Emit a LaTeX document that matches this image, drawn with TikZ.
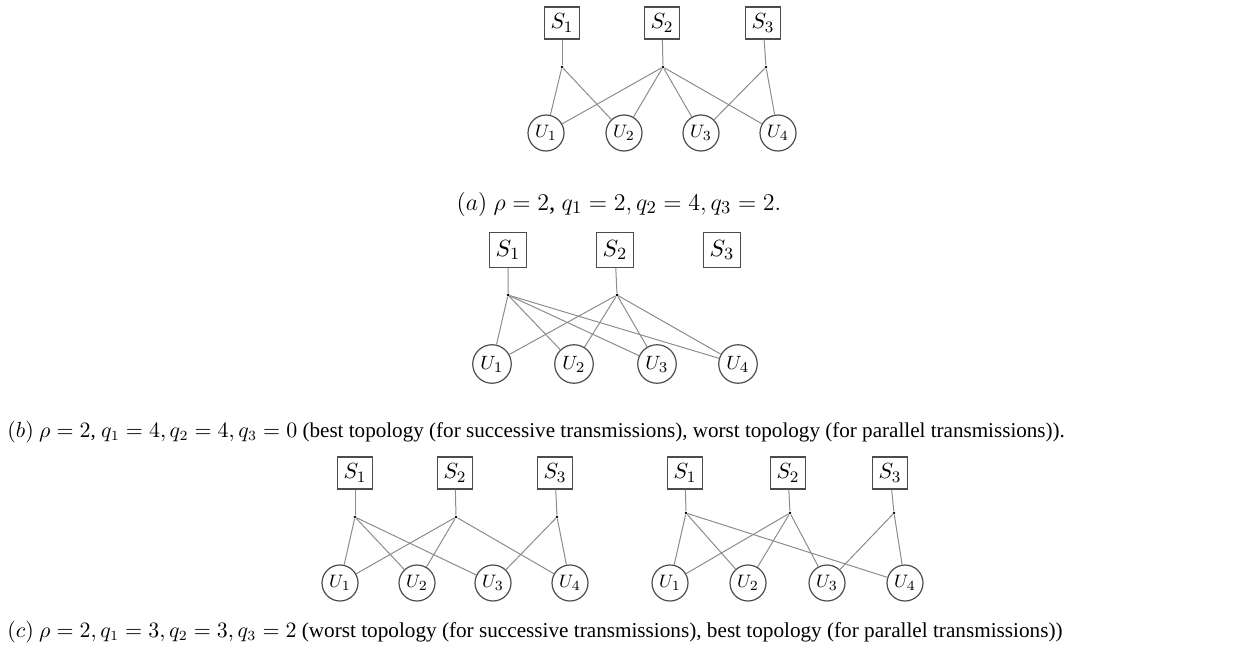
\documentclass[tikz,border=0pt]{standalone}
\usepackage[no-math]{fontspec}
\setmainfont{Liberation Serif}
\usepackage{amsmath}
\tikzstyle{srv}=[draw=black!70,line width=0.6pt,minimum width=17.5pt,minimum height=16pt,inner sep=0pt,font=\fontsize{11}{13}\selectfont]
\tikzstyle{usr}=[circle,draw=black!70,line width=0.6pt,minimum size=18pt,inner sep=0pt,font=\fontsize{9.5}{11}\selectfont]
\tikzstyle{lnk}=[draw=black!45,line width=0.5pt]
\tikzstyle{hub}=[circle,fill=black,inner sep=0pt,minimum size=1.4pt]
\tikzstyle{captxt}=[inner sep=0pt,font=\fontsize{10.55}{13}\selectfont]

\begin{document}
\begin{tikzpicture}[x=0.5pt,y=-0.5pt]
\useasboundingbox (0,0) rectangle (1237,653);
% (a)
\foreach \i/\x/\h in {1/562/562,2/662/663,3/763/766} {
	\node[srv] (aS\i) at (\x,23) {$S_\i$};
	\node[hub] (aH\i) at (\h,67) {};
	\draw[lnk] (aS\i) -- (aH\i);
}
\foreach \i/\x in {1/546,2/624,3/701,4/778}
	\node[usr] (aU\i) at (\x,133) {$U_\i$};
\foreach \s/\u in {1/1,1/2,2/1,2/2,2/3,2/4,3/3,3/4}
	\draw[lnk] (aH\s) -- (aU\u);
\node[captxt,font=\fontsize{12.5}{15}\selectfont,anchor=base] (capA) at (619,210) {$(a)$ $\rho=2$, $q_1=2, q_2=4, q_3=2.$};
% (b)
\begin{scope}[every node/.append style={scale=1.07}]
\foreach \i/\x in {1/508,2/615,3/722}
	\node[srv] (bS\i) at (\x,250) {$S_\i$};
\foreach \i/\x in {1/508,2/617} {
	\node[hub] (bH\i) at (\x,295) {};
	\draw[lnk] (bS\i) -- (bH\i);
}
\foreach \i/\x in {1/492,2/574,3/657,4/738}
	\node[usr] (bU\i) at (\x,364) {$U_\i$};
\end{scope}
\foreach \s in {1,2}
	\foreach \u in {1,...,4}
		\draw[lnk] (bH\s) -- (bU\u);
\node[captxt,anchor=base west] (capB) at (7,437) {$(b)$ $\rho=2$, $q_1=4, q_2=4, q_3=0$ (best topology (for successive transmissions), worst topology (for parallel transmissions)).};
% (c)
\foreach \i/\x/\h in {1/355/355,2/455/456,3/555/557} {
	\node[srv] (cS\i) at (\x,473) {$S_\i$};
	\node[hub] (cH\i) at (\h,517) {};
	\draw[lnk] (cS\i) -- (cH\i);
}
\foreach \i/\x in {1/340,2/417,3/493,4/570}
	\node[usr] (cU\i) at (\x,583) {$U_\i$};
\foreach \s/\u in {1/1,1/2,1/3,2/1,2/2,2/4,3/3,3/4}
	\draw[lnk] (cH\s) -- (cU\u);
\foreach \i/\x/\h in {1/685/686,2/788/790,3/890/894} {
	\node[srv] (dS\i) at (\x,473) {$S_\i$};
	\node[hub] (dH\i) at (\h,513) {};
	\draw[lnk] (dS\i) -- (dH\i);
}
\foreach \i/\x in {1/670,2/748,3/827,4/905}
	\node[usr] (dU\i) at (\x,583) {$U_\i$};
\foreach \s/\u in {1/1,1/2,1/4,2/1,2/2,2/3,3/3,3/4}
	\draw[lnk] (dH\s) -- (dU\u);
\node[captxt,font=\fontsize{10.6}{13}\selectfont,anchor=base west] (capC) at (7,637) {$(c)$ $\rho=2, q_1=3, q_2=3, q_3=2$ (worst topology (for successive transmissions), best topology (for parallel transmissions))};
\end{tikzpicture}
\end{document}
